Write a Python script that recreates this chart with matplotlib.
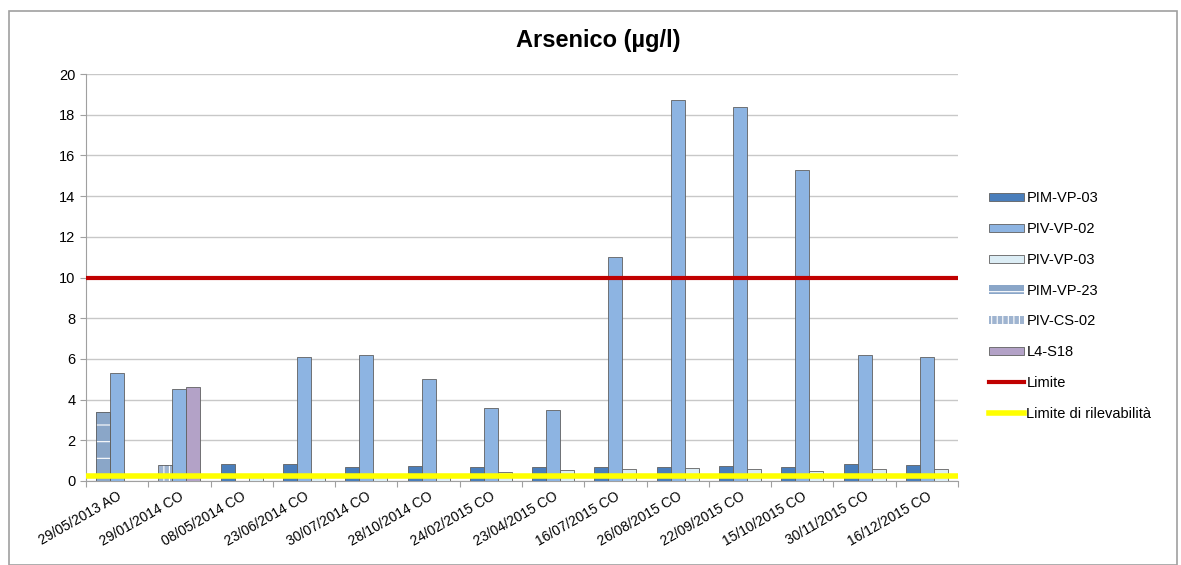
import numpy as np
import matplotlib.pyplot as plt
from matplotlib.patches import Rectangle

plt.rcParams['font.family'] = ['Liberation Sans', 'DejaVu Sans']
plt.rcParams['hatch.linewidth'] = 0.8

dates = ['29/05/2013 AO', '29/01/2014 CO', '08/05/2014 CO', '23/06/2014 CO',
         '30/07/2014 CO', '28/10/2014 CO', '24/02/2015 CO', '23/04/2015 CO',
         '16/07/2015 CO', '26/08/2015 CO', '22/09/2015 CO', '15/10/2015 CO',
         '30/11/2015 CO', '16/12/2015 CO']

pim_vp_03 = [0, 0, 0.85, 0.85, 0.7, 0.75, 0.7, 0.7, 0.7, 0.7, 0.75, 0.7, 0.85, 0.8]
piv_vp_02 = [5.3, 4.5, 0, 6.1, 6.2, 5.0, 3.6, 3.5, 11.0, 18.7, 18.4, 15.3, 6.2, 6.1]
piv_vp_03 = [0, 0, 0.35, 0.35, 0.35, 0.35, 0.45, 0.55, 0.6, 0.65, 0.6, 0.5, 0.6, 0.6]
pim_vp_23 = [3.4, 0, 0, 0, 0, 0, 0, 0, 0, 0, 0, 0, 0, 0]
piv_cs_02 = [0, 0.8, 0, 0, 0, 0, 0, 0, 0, 0, 0, 0, 0, 0]
l4_s18 = [0, 4.6, 0, 0, 0, 0, 0, 0, 0, 0, 0, 0, 0, 0]

limite = 10
limite_ril = 0.25

fig = plt.figure(figsize=(11.81, 5.65), dpi=100)
fig.patches.append(Rectangle((9 / 1181, 0), 1168 / 1181, 554 / 565, transform=fig.transFigure,
                             fill=False, edgecolor='#a0a0a0', linewidth=1.2))
ax = fig.add_axes([86 / 1181, 1 - 481 / 565, 872 / 1181, 407 / 565])

x = np.arange(len(dates))
w = 0.225
edge = '#606060'


def hatched_bar(pos, vals, color, hatch, label):
    # white hatch on the fill, grey outline drawn on top
    h = ax.bar(pos, vals, w, color=color, edgecolor='white', linewidth=0, hatch=hatch,
               label=label, zorder=3)
    ax.bar(pos, vals, w, fill=False, edgecolor=edge, linewidth=0.6, zorder=3)
    return h


ax.bar(x - w, pim_vp_03, w, color='#4a7ebb', edgecolor=edge, linewidth=0.6, label='PIM-VP-03', zorder=3)
ax.bar(x, piv_vp_02, w, color='#8db4e2', edgecolor=edge, linewidth=0.6, label='PIV-VP-02', zorder=3)
ax.bar(x + w, piv_vp_03, w, color='#dcedf5', edgecolor=edge, linewidth=0.6, label='PIV-VP-03', zorder=3)
hatched_bar(x - w, pim_vp_23, '#8aa6c8', '-', 'PIM-VP-23')
hatched_bar(x - w, piv_cs_02, '#9fb4d0', '|||', 'PIV-CS-02')
ax.bar(x + w, l4_s18, w, color='#b3a2c7', edgecolor=edge, linewidth=0.6, label='L4-S18', zorder=3)

ax.axhline(limite, color='#c00000', linewidth=3, zorder=4, label='Limite')
ax.axhline(limite_ril, color='#ffff00', linewidth=4, zorder=4, label='Limite di rilevabilità')

ax.set_xlim(-0.5, len(dates) - 0.5)
ax.set_ylim(0, 20)
ax.set_yticks(range(0, 21, 2))
ax.yaxis.grid(True, color='#c8c8c8', linewidth=1)
ax.set_axisbelow(True)
for s in ['top', 'right']:
    ax.spines[s].set_visible(False)
ax.spines['left'].set_color('#a0a0a0')
ax.spines['bottom'].set_color('#a0a0a0')
ax.set_xticks(np.arange(len(dates) + 1) - 0.5)
ax.set_xticklabels([])
ax.set_xticks(x, minor=True)
ax.set_xticklabels(dates, minor=True, rotation=30, ha='right', rotation_mode='anchor', fontsize=10)
ax.tick_params(axis='x', which='minor', length=0, pad=6)
ax.tick_params(axis='x', which='major', length=4, color='#a0a0a0')
ax.tick_params(axis='y', length=4, color='#a0a0a0', labelsize=10.5)

fig.text(598 / 1181, 1 - 40 / 565, 'Arsenico (µg/l)', fontsize=17, fontweight='bold',
         ha='center', va='center')

handles, labels = ax.get_legend_handles_labels()
order = ['PIM-VP-03', 'PIV-VP-02', 'PIV-VP-03', 'PIM-VP-23', 'PIV-CS-02', 'L4-S18',
         'Limite', 'Limite di rilevabilità']
hmap = dict(zip(labels, handles))
ax.legend([hmap[k] for k in order], order, loc='center left', bbox_to_anchor=(1.02, 0.43),
          frameon=False, fontsize=10.5, labelspacing=1.15, handlelength=2.4, handleheight=0.5,
          handletextpad=0.2)

fig.savefig('out.png', dpi=100)
